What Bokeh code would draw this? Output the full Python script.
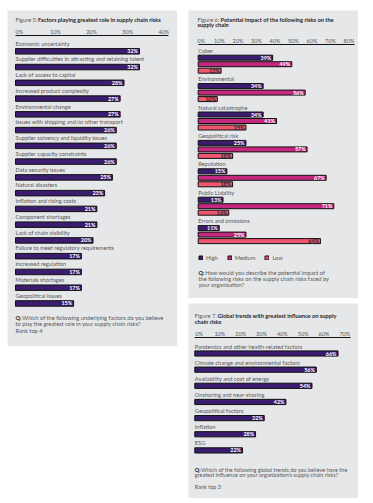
from bokeh.plotting import figure
from bokeh.models import (Range1d, LinearAxis, FixedTicker, PrintfTickFormatter, Label,
                          Legend, LegendItem, ColumnDataSource, Spacer)
from bokeh.layouts import row, column
from bokeh.embed import file_html
from bokeh.resources import INLINE
from bokeh.core.properties import value

# ---------------- data ----------------
f5_factors = [
    "Economic uncertainty",
    "Supplier difficulties in attracting and retaining talent",
    "Lack of access to capital",
    "Increased product complexity",
    "Environmental change",
    "Issues with shipping and/or other transport",
    "Supplier solvency and liquidity issues",
    "Supplier capacity constraints",
    "Data security issues",
    "Natural disasters",
    "Inflation and rising costs",
    "Component shortages",
    "Lack of chain visibility",
    "Failure to meet regulatory requirements",
    "Increased regulation",
    "Materials shortages",
    "Geopolitical issues",
]
f5_values = [32, 32, 28, 27, 27, 26, 26, 26, 25, 23, 21, 21, 20, 17, 17, 17, 15]
f5_ticks = [0, 10, 20, 30, 40]

f6_risks = ["Cyber", "Environmental", "Natural catastrophe", "Geopolitical risk",
            "Reputation", "Public Liability", "Errors and omissions"]
f6_levels = ["High", "Medium", "Low"]
f6_high = [39, 34, 34, 25, 15, 13, 11]
f6_medium = [49, 56, 41, 57, 67, 71, 25]
f6_low = [12, 10, 25, 18, 18, 16, 64]
f6_ticks = [0, 10, 20, 30, 40, 50, 60, 70, 80]

f7_trends = ["Pandemics and other health-related factors",
             "Climate change and environmental factors",
             "Availability and cost of energy",
             "Onshoring and near-shoring",
             "Geopolitical factors",
             "Inflation",
             "ESG"]
f7_values = [66, 56, 54, 42, 32, 28, 22]
f7_ticks = [0, 10, 20, 30, 40, 50, 60, 70]

# ---------------- style ----------------
FONT = "Lato"
BG = "#e6e7e9"
PURPLE = "#3b1c6f"
MAGENTA = "#c4287f"
PINK = "#f0566f"
EDGE = "#111111"
TXT = "#585858"
DARK = "#262626"
FS = "5.7px"
FS_Q7 = "5.5px"
FS_TICK = "5.5px"
FS_VAL = "5.4px"
FS_T = "5.7px"


def panel(w, h, bar0, bar_px, tick0, tick_px, line_l, line_r, line_y, ticks):
    """one grey card; y runs in pixels downward from the card's top edge.
    bar0/bar_px: pixel of 0% and pixels per % for the bars;
    tick0/tick_px: same for the tick labels of the percentage axis."""
    p = figure(width=w, height=h,
               x_range=Range1d(-bar0 / bar_px, (w - bar0) / bar_px),
               y_range=Range1d(h, 0),
               x_axis_location=None, y_axis_location=None, toolbar_location=None,
               output_backend="svg", min_border_left=0, min_border_right=0,
               min_border_top=0, min_border_bottom=0)
    p.background_fill_color = BG
    p.border_fill_color = BG
    p.outline_line_color = None
    p.xgrid.visible = False
    p.ygrid.visible = False
    p.extra_x_ranges = {"pct": Range1d(-tick0 / tick_px, (w - tick0) / tick_px)}
    ax = LinearAxis(x_range_name="pct", ticker=FixedTicker(ticks=ticks),
                    formatter=PrintfTickFormatter(format="%d%%"),
                    fixed_location=line_y,
                    bounds=((line_l - tick0) / tick_px, (line_r - tick0) / tick_px))
    ax.major_tick_line_color = None
    ax.minor_tick_line_color = None
    ax.major_tick_out = 0
    ax.major_tick_in = 0
    ax.minor_tick_out = 0
    ax.minor_tick_in = 0
    ax.major_label_standoff = 1
    ax.axis_line_color = EDGE
    ax.axis_line_width = 1
    ax.major_label_text_font = FONT
    ax.major_label_text_font_size = FS_TICK
    ax.major_label_text_color = TXT
    p.add_layout(ax, "above")
    return p


def put(p, x, y, text, size=FS, color=TXT, style="normal"):
    """text at (x, y) pixels from the card's top-left corner"""
    p.add_layout(Label(x=x, y=p.height - y, x_units="screen", y_units="screen",
                       text=text, text_font=FONT, text_font_size=size, text_color=color,
                       text_font_style=style, text_baseline="middle", text_align="left"))


def bars(p, ys, vals, names, color, lab_color, height, name_offset):
    src = ColumnDataSource(dict(y=ys, v=vals, lab=[f"{v}%" for v in vals]))
    r = p.hbar(y="y", left=0, right="v", height=height, source=src, fill_color=color,
               line_color=EDGE, line_width=1)
    p.text(x="v", y="y", text="lab", source=src, x_offset=-1.5, text_font=value(FONT),
           text_font_style="bold", text_font_size=FS_VAL, text_color=lab_color,
           text_baseline="middle", text_align="right")
    if names is not None:
        nsrc = ColumnDataSource(dict(y=ys, name=names))
        p.text(x=0, y="y", text="name", source=nsrc, y_offset=-name_offset,
               text_font=value(FONT), text_font_size=FS, text_color=TXT,
               text_baseline="middle", text_align="left")
    return r


# ---------------- Figure 5 ----------------
p5 = panel(170, 336, 8, 3.875, 11.8, 3.6125, 8, 161, 25, f5_ticks)
ys5 = [40.8 + i * 15.76 for i in range(len(f5_factors))]
bars(p5, ys5, f5_values, f5_factors, PURPLE, "white", 5.5, 8.2)
put(p5, 8, 9, "Figure 5:")
put(p5, 30.5, 9, "Factors playing greatest role in supply chain risks", color=DARK, style="bold", size=FS_T)
put(p5, 8, 307.3, "Q:", color=DARK, style="bold")
put(p5, 14.8, 307.3, "Which of the following underlying factors do you believe")
put(p5, 8, 312.9, "to play the greatest role in your supply chain risks?")
put(p5, 8, 320, "Rank top 4")

# ---------------- Figure 6 ----------------
p6 = panel(170, 288, 9.7, 1.91, 12.5, 1.85, 9.5, 166, 34, f6_ticks)
renderers = []
for j, (vals, col, lc) in enumerate([(f6_high, PURPLE, "white"),
                                       (f6_medium, MAGENTA, "white"),
                                       (f6_low, PINK, DARK)]):
    ys = [47.2 + k * 28.4 + j * 6.5 for k in range(len(f6_risks))]
    r = bars(p6, ys, vals, f6_risks if j == 0 else None, col, lc, 5.0, 7.5)
    renderers.append(r)
legend = Legend(items=[LegendItem(label=lv, renderers=[r]) for lv, r in zip(f6_levels, renderers)],
                orientation="horizontal", location=(10, 37), glyph_width=5, glyph_height=5,
                label_text_font=FONT, label_text_font_size=FS, label_text_color=TXT,
                label_standoff=3, spacing=9, padding=0, margin=0, label_height=5,
                label_width=1, background_fill_alpha=0, border_line_color=None)
p6.add_layout(legend, "center")
put(p6, 9, 9, "Figure 6:")
put(p6, 32, 9, "Potential impact of the following risks on the", color=DARK, style="bold", size=FS_T)
put(p6, 9, 14.3, "supply chain", color=DARK, style="bold", size=FS_T)
put(p6, 10, 262, "Q:", color=DARK, style="bold")
put(p6, 16.8, 262, "How would you describe the potential impact of")
put(p6, 10, 267.8, "the following risks on the supply chain risks faced by")
put(p6, 10, 273.5, "your organization?")

# ---------------- Figure 7 ----------------
p7 = panel(170, 195, 6.3, 2.17, 10.5, 2.083, 6, 162, 34, f7_ticks)
ys7 = [50 + i * 16.15 for i in range(len(f7_trends))]
bars(p7, ys7, f7_values, f7_trends, PURPLE, "white", 5.2, 7.5)
put(p7, 6.3, 12, "Figure 7.")
put(p7, 29, 12, "Global trends with greatest influence on supply", color=DARK, style="bold", size=FS_T)
put(p7, 6.3, 18, "chain risks", color=DARK, style="bold", size=FS_T)
put(p7, 6.3, 166, "Q:", color=DARK, style="bold", size=FS_Q7)
put(p7, 12.8, 166, "Which of the following global trends do you believe have the", size=FS_Q7)
put(p7, 6.3, 171.5, "greatest influence on your organization\u2019s supply chain risks?", size=FS_Q7)
put(p7, 6.3, 183.7, "Rank top 3", size=FS_Q7)

right_col = column(p6, Spacer(height=5), p7, spacing=0)
layout = column(Spacer(height=10),
                row(Spacer(width=7), p5, Spacer(width=11), right_col, spacing=0),
                spacing=0)

open("out.html", "w").write(file_html(layout, INLINE))
